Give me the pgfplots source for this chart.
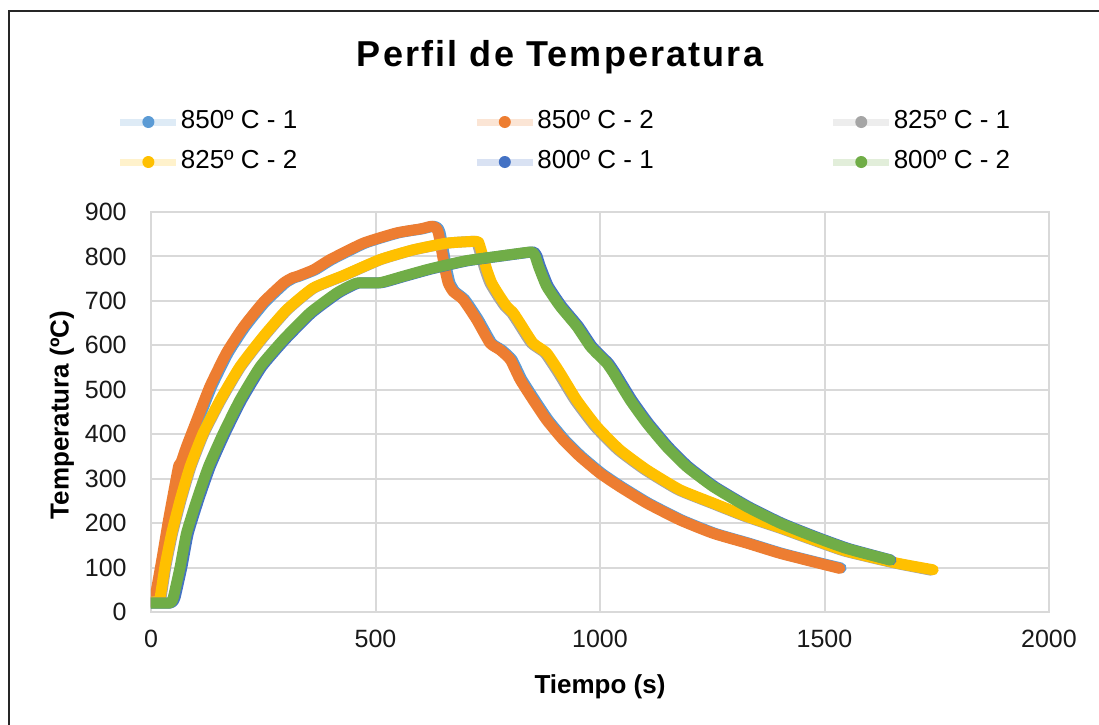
\documentclass[border=0pt]{standalone}
\usepackage{fontspec}
\setmainfont{Liberation Sans}
\usepackage{pgfplots}
\pgfplotsset{compat=1.18}
\definecolor{cA}{HTML}{5B9BD5}
\definecolor{cB}{HTML}{ED7D31}
\definecolor{cC}{HTML}{A5A5A5}
\definecolor{cD}{HTML}{FFC000}
\definecolor{cE}{HTML}{4472C4}
\definecolor{cF}{HTML}{70AD47}
\definecolor{gridc}{HTML}{D9D9D9}
\begin{document}
\begin{tikzpicture}
\useasboundingbox (0,0) rectangle (549.5pt,362pt);
\fill[white] (0,0) rectangle (549.5pt,362pt);
\draw[line width=1.2pt, black!85] (4.5pt,-2pt) -- (4.5pt,356.5pt) -- (552pt,356.5pt);
\begin{axis}[
  at={(75.5pt,56pt)}, anchor=south west,
  scale only axis, width=449pt, height=200pt,
  xmin=0, xmax=2000, ymin=0, ymax=900,
  xtick={0,500,...,2000}, ytick={0,100,...,900},
  grid=major, major grid style={draw=gridc, line width=1pt},
  axis line style={draw=gridc, line width=1pt},
  major tick length=0pt,
  /pgf/number format/1000 sep={},
  /pgf/number format/assume math mode=true,
  tick label style={font=\fontsize{12.5}{14}\selectfont, text=black!90},
  yticklabel style={inner sep=0pt, xshift=-12pt},
  xticklabel style={inner sep=0pt, yshift=-9pt},
  title={\addfontfeatures{LetterSpace=6}Perfil de Temperatura},
  title style={at={(axis description cs:0.4555,1.335)}, anchor=base, font=\fontsize{18}{20}\selectfont\bfseries},
  xlabel={Tiempo (s)},
  xlabel style={at={(axis description cs:0.5,-0.203)}, anchor=base, font=\fontsize{13}{15}\selectfont\bfseries},
  ylabel={Temperatura (ºC)},
  ylabel style={at={(axis description cs:-0.0991,0.4925)}, anchor=center, font=\fontsize{13}{15}\selectfont\bfseries},
  legend columns=3,
  legend cell align=left,
  legend style={at={(axis description cs:-0.038,1.255)}, anchor=north west, draw=none, fill=none,
    inner sep=0pt, outer sep=0pt, font=\fontsize{13}{15}\selectfont, row sep=8pt,
    nodes={inner sep=0pt, text height=9pt, text depth=3pt},
    /tikz/every odd column/.style={column sep=0.5pt},
    /tikz/column 2/.style={column sep=88pt},
    /tikz/column 4/.style={column sep=88pt}},
  legend image code/.code={
    \draw[line width=3.5pt, draw opacity=0.2, line cap=butt] (0pt,0pt) -- (28pt,0pt);
    \fill[draw=none] (14pt,0pt) circle (3pt);
  },
  every axis plot/.append style={line width=5.5pt, line join=round, line cap=round, no markers, smooth, tension=0.3},
]
% 850 C - 1
\addplot[color=cA] coordinates {
(6,22) (13,34) (28,117) (43,207) (61,305) (66,330) (71,337) (83,372) (106,432) (135,507)
(172,583) (210,642) (254,697) (299,740) (319,752) (329,755) (366,770) (403,793) (477,830)
(551,853) (604,862) (629,868) (639,864) (644,853) (651,815) (659,770) (666,740) (677,721)
(699,703) (729,658) (759,605) (781,590) (804,568) (826,523) (855,477) (885,432) (922,387)
(959,350) (1004,312) (1048,282) (1108,245) (1182,207) (1256,177) (1331,155) (1405,132)
(1479,113) (1537,99)};
\addlegendentry{850º C - 1}
% 850 C - 2
\addplot[color=cB] coordinates {
(2,22) (9,34) (24,117) (39,207) (57,305) (62,330) (67,337) (79,372) (102,432) (131,507)
(168,583) (206,642) (250,697) (295,740) (315,752) (325,755) (362,770) (399,793) (473,830)
(547,853) (600,862) (625,868) (635,864) (640,853) (647,815) (655,770) (662,740) (673,721)
(695,703) (725,658) (755,605) (777,590) (800,568) (822,523) (851,477) (881,432) (918,387)
(955,350) (1000,312) (1044,282) (1104,245) (1178,207) (1252,177) (1327,155) (1401,132)
(1475,113) (1534,98)};
\addlegendentry{850º C - 2}
% 825 C - 1
\addplot[color=cC] coordinates {
(0,22) (15,24) (22,31) (33,102) (48,177) (67,252) (89,327) (118,402) (156,477) (200,552)
(252,620) (304,680) (363,729) (430,757) (512,793) (586,815) (661,830) (721,834) (727,828)
(733,808) (744,770) (755,740) (773,710) (788,688) (803,673) (818,650) (847,605) (877,583)
(907,538) (944,477) (989,417) (1040,365) (1100,320) (1174,275) (1248,245) (1323,215)
(1397,190) (1471,163) (1545,137) (1657,110) (1738,94)};
\addlegendentry{825º C - 1}
% 825 C - 2
\addplot[color=cD] coordinates {
(0,22) (15,24) (20,31) (31,102) (46,177) (65,252) (87,327) (116,402) (154,477) (198,552)
(250,620) (302,680) (361,729) (428,757) (510,793) (584,815) (659,830) (725,834) (731,828)
(737,808) (748,770) (759,740) (777,710) (792,688) (807,673) (822,650) (851,605) (881,583)
(911,538) (948,477) (993,417) (1044,365) (1104,320) (1178,275) (1252,245) (1327,215)
(1401,190) (1475,163) (1549,137) (1661,110) (1742,95)};
\addlegendentry{825º C - 2}
% 800 C - 1
\addplot[color=cE] coordinates {
(0,20) (42,20) (49,24) (54,34) (69,102) (83,177) (106,252) (132,327) (165,402) (202,477)
(247,552) (299,613) (358,673) (418,718) (462,740) (514,741) (564,755) (625,772) (704,790)
(774,800) (848,810) (855,808) (860,800) (867,778) (885,733) (915,688) (952,643) (982,598)
(1004,575) (1019,560) (1034,538) (1071,477) (1108,425) (1152,372) (1197,327) (1256,282)
(1331,237) (1405,200) (1479,170) (1553,143) (1648,117)};
\addlegendentry{800º C - 1}
% 800 C - 2
\addplot[color=cF] coordinates {
(0,20) (40,20) (46,24) (50,34) (65,102) (79,177) (102,252) (128,327) (161,402) (198,477)
(243,552) (295,613) (354,673) (414,718) (458,740) (510,741) (560,755) (621,772) (700,790)
(770,800) (844,810) (851,808) (856,800) (863,778) (881,733) (911,688) (948,643) (978,598)
(1000,575) (1015,560) (1030,538) (1067,477) (1104,425) (1148,372) (1193,327) (1252,282)
(1327,237) (1401,200) (1475,170) (1549,143) (1646,117)};
\addlegendentry{800º C - 2}
\end{axis}
\end{tikzpicture}
\end{document}
